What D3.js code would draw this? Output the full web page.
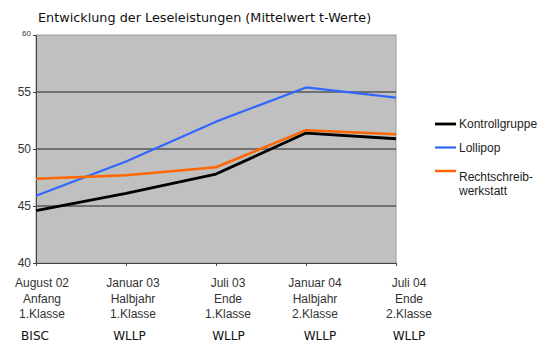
<!DOCTYPE html>
<html>
<head>
<meta charset="utf-8">
<script src="https://cdn.jsdelivr.net/npm/d3@7"></script>
<style>
  body { margin: 0; background: #fff; }
</style>
</head>
<body>
<svg id="chart" width="550" height="351"></svg>
<script>
const categories = [
  ["August 02", "Anfang", "1.Klasse"],
  ["Januar 03", "Halbjahr", "1.Klasse"],
  ["Juli 03", "Ende", "1.Klasse"],
  ["Januar 04", "Halbjahr", "2.Klasse"],
  ["Juli 04", "Ende", "2.Klasse"]
];
const tests = ["BISC", "WLLP", "WLLP", "WLLP", "WLLP"];
const kontrollgruppe = [44.6, 46.1, 47.8, 51.4, 50.9];
const lollipop = [45.9, 48.9, 52.4, 55.4, 54.5];
const rechtschreib = [47.4, 47.7, 48.4, 51.65, 51.3];
const yTicks = [40, 45, 50, 55, 60];

const series = [
  { name: ["Kontrollgruppe"], values: kontrollgruppe, color: "#000000", width: 2.8 },
  { name: ["Lollipop"], values: lollipop, color: "#3366ff", width: 2.2 },
  { name: ["Rechtschreib-", "werkstatt"], values: rechtschreib, color: "#ff6600", width: 2.5 }
];

const svg = d3.select("#chart");
const plot = { left: 36, right: 396, top: 35, bottom: 263 };
// horizontal nudges of the category labels, as in the original layout
const labelShift = [6, 7, 12, 9, 13];
const testShift = [-1, 3.5, 12.5, 14, 13];

const xScale = d3.scaleLinear().domain([0, categories.length - 1]).range([plot.left, plot.right]);
const yScale = d3.scaleLinear().domain([40, 60]).range([plot.bottom, plot.top]);

// title
svg.append("text")
  .attr("x", 38)
  .attr("y", 22)
  .attr("font-family", "DejaVu Sans, Verdana, sans-serif")
  .attr("font-size", 12.8)
  .attr("fill", "#111")
  .text("Entwicklung der Leseleistungen (Mittelwert t-Werte)");

// plot background
svg.append("rect")
  .attr("x", plot.left)
  .attr("y", plot.top)
  .attr("width", plot.right - plot.left)
  .attr("height", plot.bottom - plot.top)
  .attr("fill", "#c0c0c0")
  .attr("stroke", "#9a9a9a")
  .attr("stroke-width", 1);

// grid lines
svg.selectAll(".grid")
  .data(yTicks.filter(d => d > 40 && d < 60))
  .enter().append("line")
  .attr("class", "grid")
  .attr("x1", plot.left)
  .attr("x2", plot.right)
  .attr("y1", d => yScale(d))
  .attr("y2", d => yScale(d))
  .attr("stroke", "#222")
  .attr("stroke-width", 1);

// y axis
const yAxis = svg.append("g")
  .attr("transform", `translate(${plot.left},0)`)
  .call(d3.axisLeft(yScale).tickValues(yTicks).tickSize(3).tickPadding(2));
yAxis.select(".domain").attr("stroke", "#444");
yAxis.selectAll(".tick line").attr("stroke", "#444");
yAxis.selectAll(".tick text")
  .attr("font-family", "Liberation Sans, Arial, sans-serif")
  .attr("font-size", d => d === 60 ? 8 : 12)
  .attr("dy", d => d === 60 ? "0.1em" : "0.32em")
  .attr("fill", "#333");

// x axis
const xAxis = svg.append("g")
  .attr("transform", `translate(0,${plot.bottom})`)
  .call(d3.axisBottom(xScale).tickValues(d3.range(categories.length)).tickSize(3).tickFormat(""));
xAxis.select(".domain").attr("stroke", "#444");
xAxis.selectAll(".tick line").attr("stroke", "#444");

const labels = svg.append("g")
  .attr("font-family", "Liberation Sans, Arial, sans-serif")
  .attr("font-size", 12)
  .attr("fill", "#333")
  .attr("text-anchor", "middle");

categories.forEach((lines, i) => {
  lines.forEach((t, j) => {
    labels.append("text")
      .attr("x", xScale(i) + labelShift[i])
      .attr("y", 287 + j * 15.5)
      .text(t);
  });
  svg.append("text")
    .attr("x", xScale(i) + testShift[i])
    .attr("y", 340)
    .attr("text-anchor", "middle")
    .attr("font-family", "DejaVu Sans, Verdana, sans-serif")
    .attr("font-size", 12)
    .attr("fill", "#111")
    .text(tests[i]);
});

// lines
const line = d3.line()
  .x((d, i) => xScale(i))
  .y(d => yScale(d));

series.forEach(s => {
  svg.append("path")
    .datum(s.values)
    .attr("fill", "none")
    .attr("stroke", s.color)
    .attr("stroke-width", s.width)
    .attr("stroke-linejoin", "round")
    .attr("d", line);
});

// legend
const legendY = [124, 147.5, 171];
const legend = svg.append("g")
  .attr("font-family", "Liberation Sans, Arial, sans-serif")
  .attr("font-size", 12)
  .attr("fill", "#222");

series.forEach((s, i) => {
  legend.append("line")
    .attr("x1", 435)
    .attr("x2", 456)
    .attr("y1", legendY[i])
    .attr("y2", legendY[i])
    .attr("stroke", s.color)
    .attr("stroke-width", s.width);
  s.name.forEach((t, j) => {
    legend.append("text")
      .attr("x", 459)
      .attr("y", legendY[i] + 4 + (s.name.length > 1 ? 6 : 0) + j * 14)
      .text(t);
  });
});
</script>
</body>
</html>
